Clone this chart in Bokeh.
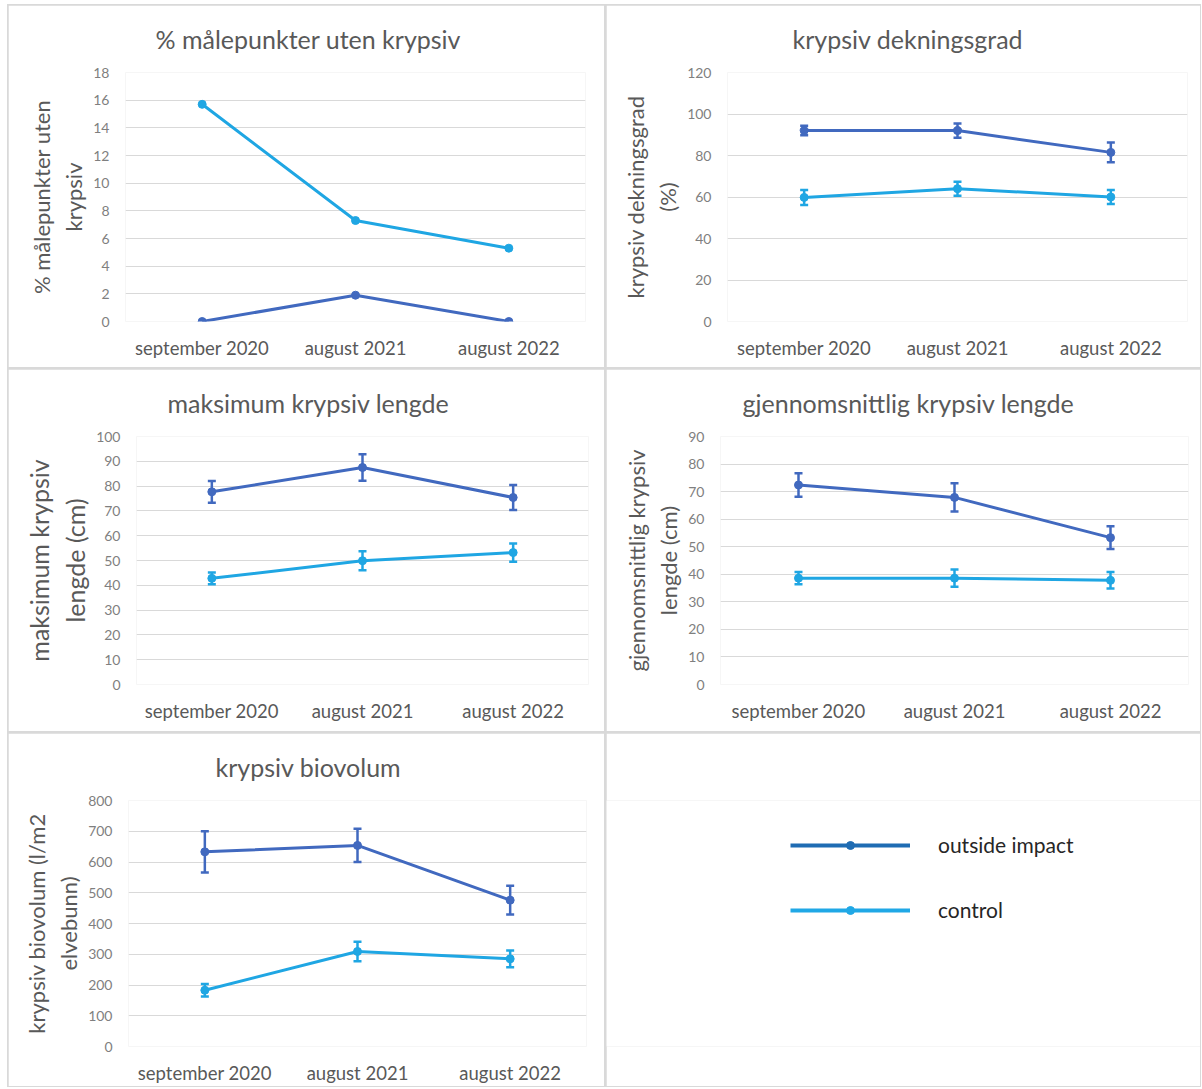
from bokeh.plotting import figure
from bokeh.layouts import column, row
from bokeh.models import (FactorRange, Range1d, FixedTicker, Legend, LegendItem,
                          ColumnDataSource)
from bokeh.embed import file_html
from bokeh.resources import INLINE

# ---------------- data ----------------
categories = ["september 2020", "august 2021", "august 2022"]
series_names = ["outside impact", "control"]

p1_outside = [0.0, 1.9, 0.0]
p1_control = [15.7, 7.3, 5.3]
p1_ticks = [0, 2, 4, 6, 8, 10, 12, 14, 16, 18]

p2_outside = [92.0, 92.0, 81.5]
p2_outside_err = [2.3, 3.4, 4.8]
p2_control = [59.8, 64.0, 60.0]
p2_control_err = [3.6, 3.4, 3.4]
p2_ticks = [0, 20, 40, 60, 80, 100, 120]

p3_outside = [77.7, 87.5, 75.4]
p3_outside_err = [4.4, 5.3, 5.0]
p3_control = [42.8, 49.9, 53.2]
p3_control_err = [2.4, 3.8, 3.7]
p3_ticks = [0, 10, 20, 30, 40, 50, 60, 70, 80, 90, 100]

p4_outside = [72.4, 67.9, 53.3]
p4_outside_err = [4.3, 5.1, 4.1]
p4_control = [38.6, 38.6, 37.8]
p4_control_err = [2.2, 3.1, 3.0]
p4_ticks = [0, 10, 20, 30, 40, 50, 60, 70, 80, 90]

p5_outside = [633, 654, 476]
p5_outside_err = [67, 54, 47]
p5_control = [183, 309, 285]
p5_control_err = [20, 32, 27]
p5_ticks = [0, 100, 200, 300, 400, 500, 600, 700, 800]

# ---------------- style ----------------
FONT = "Lato"
C_OUT = "#4169BF"
C_CTL = "#1FA6E3"
C_OUT_LEG = "#1F6CB3"
C_CTL_LEG = "#20A8E6"
GRID = "#D9D9D9"
TXT = "#595959"
TICK_TXT = "#7F7F7F"

W_LEFT, W_RIGHT = 596, 594
H_TOP, H_MID, H_BOT = 362, 362, 353


def make_panel(title, ylabel, ticks, outside, control, outside_err, control_err,
               width, height, left, right, top, bottom, title_offset, label_size):
    p = figure(width=width, height=height, x_range=FactorRange(*categories),
               y_range=Range1d(ticks[0], ticks[-1]), output_backend="svg",
               toolbar_location=None, min_border_left=left, min_border_right=right,
               min_border_top=top, min_border_bottom=bottom)
    p.outline_line_color = None
    p.background_fill_color = "white"
    p.border_fill_color = "white"
    p.xgrid.grid_line_color = None
    p.ygrid.grid_line_color = GRID
    p.ygrid.grid_line_width = 1
    p.yaxis.ticker = FixedTicker(ticks=ticks)

    p.title.text = title
    p.title.align = "left"
    p.title.vertical_align = "middle"
    p.title.offset = title_offset
    p.title.standoff = 35
    p.title.text_font = FONT
    p.title.text_font_size = "25px"
    p.title.text_font_style = "normal"
    p.title.text_color = TXT

    for ax in (p.xaxis[0], p.yaxis[0]):
        ax.axis_line_color = None
        ax.major_tick_line_color = None
        ax.minor_tick_line_color = None
        ax.major_label_text_font = FONT
    p.xaxis.major_label_text_font_size = "18.5px"
    p.xaxis.major_label_text_color = TXT
    p.xaxis.major_label_standoff = 9
    p.yaxis.major_label_text_font_size = "14px"
    p.yaxis.major_label_text_color = TICK_TXT
    p.yaxis.major_label_standoff = 10
    p.yaxis.axis_label = ylabel
    p.yaxis.axis_label_text_font = FONT
    p.yaxis.axis_label_text_font_size = label_size
    p.yaxis.axis_label_text_font_style = "normal"
    p.yaxis.axis_label_text_color = TXT
    p.yaxis.axis_label_standoff = 3

    for vals, errs, col in ((outside, outside_err, C_OUT), (control, control_err, C_CTL)):
        src = ColumnDataSource(dict(x=categories, y=vals))
        p.line("x", "y", source=src, line_color=col, line_width=3)
        if errs is not None:
            lo = [v - e for v, e in zip(vals, errs)]
            hi = [v + e for v, e in zip(vals, errs)]
            esrc = ColumnDataSource(dict(x=categories, lo=lo, hi=hi))
            p.segment(x0="x", y0="lo", x1="x", y1="hi", source=esrc, line_color=col, line_width=2.5)
            p.scatter("x", "lo", source=esrc, marker="dash", size=8, line_color=col, line_width=2.5)
            p.scatter("x", "hi", source=esrc, marker="dash", size=8, line_color=col, line_width=2.5)
        p.scatter("x", "y", source=src, marker="circle", size=8, fill_color=col, line_color=col)
    return p


p1 = make_panel("% målepunkter uten krypsiv", "% målepunkter uten\nkrypsiv", p1_ticks,
                p1_outside, p1_control, None, None, W_LEFT, H_TOP, 117, 19, 67, 46, 30, "22px")
p2 = make_panel("krypsiv dekningsgrad", "krypsiv dekningsgrad\n(%)", p2_ticks,
                p2_outside, p2_control, p2_outside_err, p2_control_err,
                W_RIGHT, H_TOP, 121, 13, 67, 46, 65, "22px")
p3 = make_panel("maksimum krypsiv lengde", "maksimum krypsiv\nlengde (cm)", p3_ticks,
                p3_outside, p3_control, p3_outside_err, p3_control_err,
                W_LEFT, H_MID, 128, 16, 66, 47, 31, "25px")
p4 = make_panel("gjennomsnittlig krypsiv lengde", "gjennomsnittlig krypsiv\nlengde (cm)", p4_ticks,
                p4_outside, p4_control, p4_outside_err, p4_control_err,
                W_RIGHT, H_MID, 114, 12, 66, 47, 22, "22px")
p5 = make_panel("krypsiv biovolum", "krypsiv biovolum (l/m2\nelvebunn)", p5_ticks,
                p5_outside, p5_control, p5_outside_err, p5_control_err,
                W_LEFT, H_BOT, 120, 18, 67, 36, 87, "22px")

# legend panel
p6 = figure(width=W_RIGHT, height=H_BOT, x_range=(0, 1), y_range=(0, 1), output_backend="svg",
            toolbar_location=None, min_border=0)
p6.axis.visible = False
p6.grid.visible = False
p6.outline_line_color = None
p6.border_fill_color = "white"
p6.background_fill_color = "white"
leg_items = []
for name, col in zip(series_names, (C_OUT_LEG, C_CTL_LEG)):
    dummy = ColumnDataSource(dict(x=[float("nan")], y=[float("nan")]))
    r_line = p6.line("x", "y", source=dummy, line_color=col, line_width=4)
    r_pt = p6.scatter("x", "y", source=dummy, marker="circle", size=9, fill_color=col, line_color=col)
    leg_items.append(LegendItem(label=name, renderers=[r_line, r_pt]))
legend = Legend(items=leg_items, location=(184, 124), glyph_width=120, glyph_height=20,
                label_height=20, spacing=40, label_standoff=28, padding=0, margin=0,
                border_line_color=None, background_fill_alpha=0,
                label_text_font=FONT, label_text_font_size="21px", label_text_color="#262626")
p6.add_layout(legend)

layout = column(row(p1, p2, spacing=2), row(p3, p4, spacing=2), row(p5, p6, spacing=2),
                spacing=2, styles={"background-color": GRID, "padding": "1px",
                                   "margin": "4px 0px 0px 7px"})

open("out.html", "w").write(file_html(layout, INLINE))
